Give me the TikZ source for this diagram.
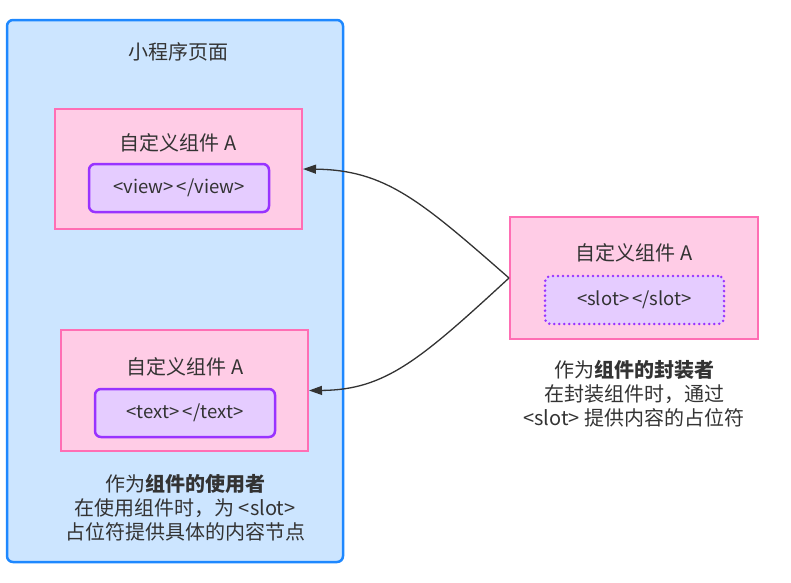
\documentclass[tikz,border=0pt]{standalone}
\usepackage{fontspec}
\setmainfont{Noto Sans CJK SC}
\usetikzlibrary{arrows.meta}
\definecolor{txt}{HTML}{333333}
\definecolor{pagefill}{HTML}{CCE5FF}
\definecolor{pageline}{HTML}{1E88FF}
\definecolor{compfill}{HTML}{FFCCE6}
\definecolor{compline}{HTML}{FF6EB4}
\definecolor{slotfill}{HTML}{E5CCFF}
\definecolor{slotline}{HTML}{9933FF}
\begin{document}
\begin{tikzpicture}[x=1pt,y=-1pt,
  every node/.style={text=txt,font=\fontsize{20}{24}\selectfont},
  pagebox/.style={draw=pageline,fill=pagefill,line width=2.5pt,rounded corners=6pt,inner sep=0pt},
  compbox/.style={draw=compline,fill=compfill,line width=2pt,inner sep=0pt,minimum width=247pt,minimum height=120pt},
  slotbox/.style={draw=slotline,fill=slotfill,line width=2.5pt,rounded corners=6pt,inner sep=0pt,minimum width=180pt,minimum height=48pt,font=\fontsize{18.5}{22}\selectfont},
  dotbox/.style={slotbox,line width=2.8pt,line cap=round,dash pattern=on 0pt off 5pt},
  lbl/.style={align=center,inner sep=0pt},
  conn/.style={draw=txt,line width=1.3pt,-{Triangle[length=13pt,width=9pt]}}
]
\useasboundingbox (0,0) rectangle (791,582);
\node[pagebox,minimum width=336pt,minimum height=542pt] (page) at (175,291) {};
\node[lbl] (pagetitle) at (178,52) {小程序页面};

\node[compbox] (a1) at (178.5,169) {};
\node[lbl] (a1t) at (178,143) {自定义组件 A};
\node[slotbox] (v1) at (179,188) {<view>\,</view>};

\node[compbox,minimum height=121pt] (a2) at (184.5,390.5) {};
\node[lbl] (a2t) at (185,367) {自定义组件 A};
\node[slotbox] (t2) at (185,413) {<text>\,</text>};

\node[lbl] (usr) at (185,508) {作为\textbf{组件的使用者}\\在使用组件时，为 <slot>\\占位符提供具体的内容节点};

\node[compbox,minimum width=248pt,minimum height=122pt] (r) at (634,278) {};
\node[lbl] (rt) at (634,253) {自定义组件 A};
\node[dotbox,minimum width=179pt] (s) at (634.5,300) {<slot>\,</slot>};

\node[lbl] (enc) at (634,394) {作为\textbf{组件的封装者}\\在封装组件时，通过\\<slot> 提供内容的占位符};

\draw[conn] (r.west) .. controls (420,200) and (385,170) .. (a1.east);
\draw[conn] (r.west) .. controls (420,360) and (385,390) .. (a2.east);
\end{tikzpicture}
\end{document}
